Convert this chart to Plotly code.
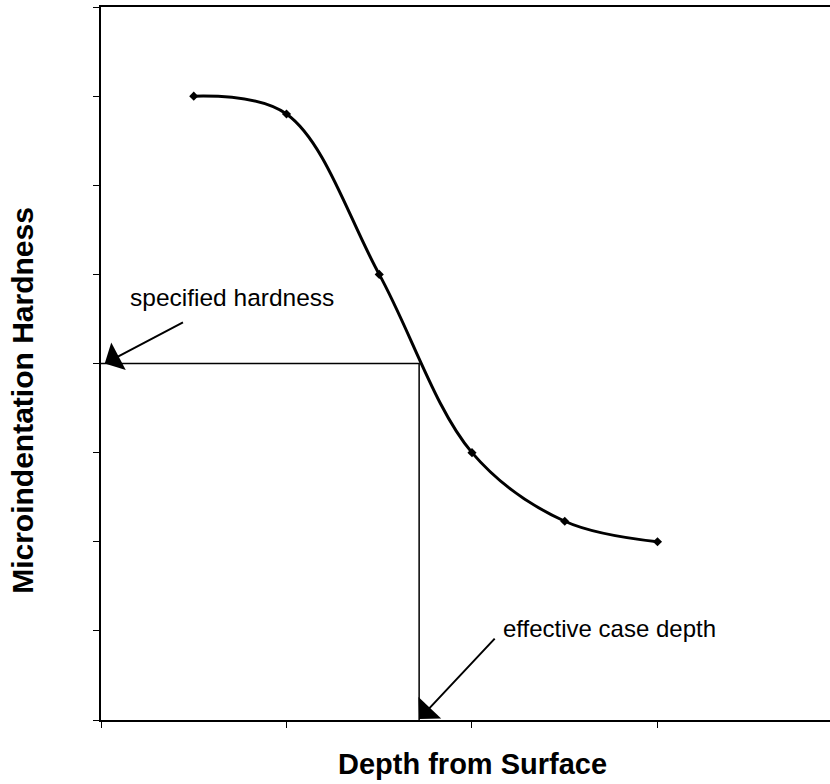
import plotly.graph_objects as go

# Data
depth = [0.5, 1.0, 1.5, 2.0, 2.5, 3.0]
hardness = [7.0, 6.8, 5.0, 3.0, 2.23, 2.0]

specified_hardness = 4.0
effective_case_depth = 1.715

x_max = 3.93
y_max = 8

fig = go.Figure()

# guide lines: specified hardness (horizontal) and effective case depth (vertical)
fig.add_trace(go.Scatter(
    x=[0, effective_case_depth, effective_case_depth],
    y=[specified_hardness, specified_hardness, 0],
    mode="lines", line=dict(color="black", width=1.5),
    hoverinfo="skip", showlegend=False, cliponaxis=False))

# hardness curve
fig.add_trace(go.Scatter(
    x=depth, y=hardness, mode="lines+markers",
    line=dict(color="black", width=3, shape="spline", smoothing=1.0),
    marker=dict(symbol="diamond", size=7, color="black"),
    showlegend=False))

font_main = "Liberation Sans, Arial, sans-serif"

annotations = [
    # arrows
    dict(x=0.02, y=specified_hardness, ax=0.45, ay=4.47, xref="x", yref="y",
         axref="x", ayref="y", text="", showarrow=True, arrowhead=1,
         arrowsize=2.6, arrowwidth=2, arrowcolor="black"),
    dict(x=effective_case_depth, y=0.01, ax=2.13, ay=0.93, xref="x", yref="y",
         axref="x", ayref="y", text="", showarrow=True, arrowhead=1,
         arrowsize=2.6, arrowwidth=2, arrowcolor="black"),
    # labels
    dict(x=0.708, y=4.74, xref="x", yref="y", text="specified hardness",
         showarrow=False, font=dict(family=font_main, size=24.5, color="black")),
    dict(x=2.743, y=1.03, xref="x", yref="y", text="effective case depth",
         showarrow=False, font=dict(family=font_main, size=24, color="black")),
    # axis titles
    dict(x=0.509, y=-0.062, xref="paper", yref="paper",
         text="<b>Depth from Surface</b>", showarrow=False,
         xanchor="center", yanchor="middle",
         font=dict(family=font_main, size=29, color="black")),
    dict(x=-0.107, y=0.449, xref="paper", yref="paper",
         text="<b>Microindentation Hardness</b>", showarrow=False,
         textangle=-90, xanchor="center", yanchor="middle",
         font=dict(family=font_main, size=30, color="black")),
]

fig.update_layout(
    width=830, height=784,
    margin=dict(l=101, r=0, t=7, b=64),
    paper_bgcolor="white", plot_bgcolor="white",
    annotations=annotations,
    xaxis=dict(range=[0, x_max], dtick=1, tick0=0, showticklabels=False,
               ticks="outside", ticklen=6, tickwidth=1, tickcolor="black",
               showline=True, linecolor="black", linewidth=2, mirror=True,
               showgrid=False, zeroline=False),
    yaxis=dict(range=[0, y_max], dtick=1, tick0=0, showticklabels=False,
               ticks="outside", ticklen=6, tickwidth=1, tickcolor="black",
               showline=True, linecolor="black", linewidth=2,
               showgrid=False, zeroline=False),
)

fig.write_html("out.html", config={"displayModeBar": False},
               post_script="document.body.style.margin='0';document.body.style.padding='0';")
